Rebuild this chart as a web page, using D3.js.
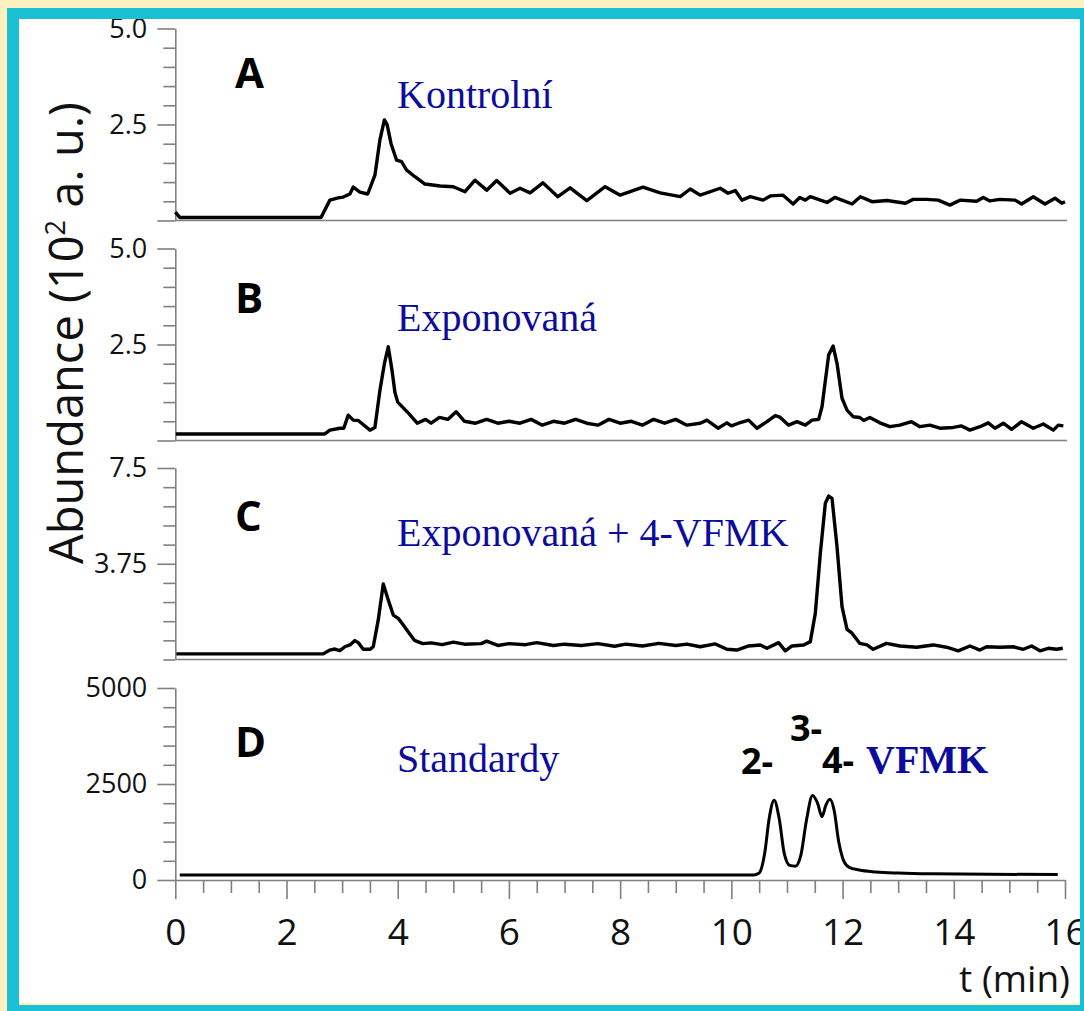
<!DOCTYPE html>
<html><head><meta charset="utf-8">
<script src="https://cdn.jsdelivr.net/npm/d3@7/dist/d3.min.js"></script>
<style>html,body{margin:0;padding:0;background:#fdf1c0;} svg{display:block}</style>
</head><body>
<svg id="c" width="1084" height="1011"></svg>
<script>
// ---------- data (time in min, abundance) ----------
const tA = [0,0.08,2.62,2.78,2.93,3.02,3.14,3.2,3.32,3.46,3.59,3.68,3.76,3.81,3.88,3.98,4.07,4.16,4.31,4.49,4.76,5.0,5.21,5.39,5.6,5.78,6.02,6.2,6.38,6.61,6.88,7.1,7.4,7.73,8.0,8.41,8.72,9.08,9.26,9.44,9.8,9.94,10.07,10.19,10.34,10.57,10.7,10.93,11.11,11.23,11.33,11.42,11.72,11.86,12.17,12.32,12.53,12.8,13.13,13.27,13.51,13.72,13.93,14.11,14.41,14.53,14.65,14.83,15.1,15.22,15.43,15.64,15.82,15.94,16.0];
const vA = [0.22,0.08,0.08,0.53,0.59,0.61,0.69,0.87,0.74,0.69,1.18,2.1,2.62,2.49,2.0,1.57,1.53,1.31,1.14,0.95,0.9,0.88,0.75,1.05,0.79,1.04,0.71,0.84,0.72,0.98,0.62,0.85,0.52,0.88,0.66,0.87,0.72,0.62,0.82,0.66,0.84,0.71,0.78,0.53,0.62,0.53,0.64,0.66,0.43,0.6,0.53,0.62,0.47,0.6,0.43,0.62,0.49,0.52,0.45,0.55,0.55,0.53,0.4,0.53,0.5,0.6,0.51,0.55,0.53,0.43,0.62,0.43,0.58,0.45,0.49];

const tB = [0.01,2.69,2.78,2.96,3.03,3.11,3.2,3.29,3.5,3.59,3.68,3.76,3.83,3.9,3.95,4.0,4.1,4.2,4.35,4.5,4.6,4.75,4.9,5.05,5.2,5.4,5.6,5.8,6.0,6.2,6.4,6.6,6.8,7.0,7.2,7.4,7.6,7.8,8.0,8.2,8.4,8.6,8.8,9.0,9.2,9.44,9.56,9.76,9.92,10.0,10.13,10.31,10.46,10.64,10.79,10.88,11.03,11.18,11.33,11.45,11.57,11.63,11.75,11.83,11.9,11.99,12.08,12.19,12.31,12.38,12.49,12.67,12.85,13.03,13.24,13.39,13.57,13.75,13.99,14.14,14.29,14.47,14.62,14.74,14.89,15.04,15.22,15.43,15.61,15.79,15.88,15.97];
const vB = [0.17,0.17,0.27,0.32,0.32,0.66,0.53,0.52,0.27,0.34,1.31,2.0,2.44,1.8,1.25,1.0,0.85,0.7,0.45,0.55,0.45,0.6,0.55,0.75,0.5,0.45,0.55,0.45,0.5,0.45,0.55,0.4,0.5,0.45,0.55,0.45,0.4,0.55,0.45,0.5,0.4,0.55,0.45,0.55,0.4,0.45,0.53,0.32,0.46,0.38,0.45,0.53,0.32,0.49,0.65,0.6,0.4,0.49,0.4,0.53,0.55,0.88,2.23,2.46,2.01,1.1,0.79,0.62,0.6,0.52,0.6,0.46,0.36,0.4,0.49,0.36,0.4,0.32,0.34,0.38,0.27,0.36,0.46,0.32,0.45,0.29,0.49,0.32,0.43,0.27,0.4,0.38];

const tC = [0.02,2.66,2.78,2.87,2.96,3.05,3.14,3.23,3.29,3.38,3.5,3.56,3.65,3.74,3.83,3.92,4.01,4.1,4.2,4.3,4.45,4.6,4.8,5.0,5.2,5.5,5.6,5.8,6.0,6.3,6.5,6.8,7.0,7.3,7.6,7.9,8.1,8.4,8.7,9.0,9.2,9.44,9.71,9.92,10.1,10.31,10.52,10.64,10.85,10.97,11.09,11.3,11.42,11.51,11.6,11.69,11.75,11.81,11.9,11.99,12.08,12.17,12.31,12.44,12.55,12.79,13.03,13.33,13.63,13.87,14.08,14.29,14.47,14.59,14.83,15.07,15.25,15.4,15.55,15.7,15.85,15.96];
const vC = [0.22,0.22,0.37,0.41,0.35,0.5,0.57,0.74,0.66,0.4,0.4,0.5,1.55,2.96,2.33,1.74,1.61,1.35,1.05,0.75,0.62,0.65,0.58,0.68,0.6,0.62,0.72,0.55,0.62,0.58,0.66,0.55,0.6,0.55,0.62,0.52,0.6,0.53,0.63,0.55,0.6,0.5,0.61,0.4,0.37,0.53,0.57,0.44,0.66,0.34,0.53,0.57,0.7,1.81,4.16,6.12,6.4,6.31,4.42,2.07,1.18,1.03,0.63,0.57,0.4,0.63,0.53,0.48,0.57,0.48,0.34,0.53,0.37,0.5,0.48,0.5,0.4,0.53,0.34,0.44,0.4,0.44];

const tD = [0.08,10.4,10.5,10.6,10.68,10.77,10.86,10.95,11.05,11.15,11.25,11.35,11.46,11.55,11.63,11.7,11.77,11.85,11.93,12.02,12.12,12.3,12.6,13.0,13.6,15.87];
const vD = [130,130,180,700,1600,2080,1600,700,380,360,650,1550,2200,2000,1650,1950,2100,1800,1000,500,330,260,210,180,160,140];

// ---------- ticks & labels ----------
const xMajor = [0,2,4,6,8,10,12,14,16];
const xMinor = [0.5,1,1.5,2.5,3,3.5,4.5,5,5.5,6.5,7,7.5,8.5,9,9.5,10.5,11,11.5,12.5,13,13.5,14.5,15,15.5];
const yMajorA = [0,2.5,5], yLabA = {2.5:"2.5",5:"5.0"};
const yMajorB = [0,2.5,5], yLabB = {2.5:"2.5",5:"5.0"};
const yMajorC = [3.75,7.5], yLabC = {3.75:"3.75",7.5:"7.5"};
const yMajorD = [0,2500,5000], yLabD = {0:"0",2500:"2500",5000:"5000"};
const letters = ["A","B","C","D"];
const names = ["Kontrolní","Exponovaná","Exponovaná + 4-VFMK","Standardy"];

// ---------- drawing ----------
const svg = d3.select('#c');
const BLUE = '#0c0c9c', GRAY = '#808080';
svg.append('rect').attr('width',1084).attr('height',1011).attr('fill','#fdf1c0');
svg.append('rect').attr('x',19).attr('y',19).attr('width',1061).attr('height',984).attr('fill','#fff');

const x = d3.scaleLinear().domain([0,16]).range([175.3,1065]);

const panels = [
  {t:tA,v:vA,dom:[0,5],rng:[220.5,28.5],major:yMajorA,lab:yLabA,step:0.5,ly:88,ny:108},
  {t:tB,v:vB,dom:[0,5],rng:[440.5,248.5],major:yMajorB,lab:yLabB,step:0.5,ly:313,ny:331},
  {t:tC,v:vC,dom:[0,7.5],rng:[659.5,468],major:yMajorC,lab:yLabC,step:0.75,ly:531,ny:546},
  {t:tD,v:vD,dom:[0,5000],rng:[880,688],major:yMajorD,lab:yLabD,step:500,ly:757,ny:772}
];

panels.forEach((p,i)=>{
  const y = d3.scaleLinear().domain(p.dom).range(p.rng);
  const g = svg.append('g');
  if(i<3){
    g.append('line').attr('x1',x(0)).attr('x2',x(16)+2).attr('y1',y(0)).attr('y2',y(0))
      .attr('stroke',GRAY).attr('stroke-width',1.6);
  }
  const minorVals = d3.range(0, p.dom[1]+p.step/2, p.step).filter(v=>!p.major.some(m=>Math.abs(m-v)<1e-6));
  const gm = g.append('g').attr('transform',`translate(${x(0)},0)`)
    .call(d3.axisLeft(y).tickValues(minorVals).tickSize(12).tickFormat('').tickSizeOuter(0));
  gm.select('.domain').remove();
  const ga = g.append('g').attr('transform',`translate(${x(0)},0)`)
    .call(d3.axisLeft(y).tickValues(p.major).tickSize(18).tickPadding(10).tickSizeOuter(0)
      .tickFormat(d=>p.lab[d]||''));
  g.selectAll('.tick line').attr('stroke',GRAY).attr('stroke-width',1.6);
  ga.select('.domain').attr('stroke',GRAY).attr('stroke-width',1.6);
  ga.selectAll('text').attr('font-family','"Open Sans", sans-serif').attr('font-size',27).attr('fill','#111');

  const data = p.t.map((t,k)=>[t,p.v[k]]);
  const line = d3.line().x(d=>x(d[0])).y(d=>y(d[1]))
     .curve(i===3 ? d3.curveMonotoneX : d3.curveLinear);
  g.append('path').datum(data).attr('d',line).attr('fill','none')
    .attr('stroke','#000').attr('stroke-width',i===3?3:3.4).attr('stroke-linejoin','round');

  g.append('text').attr('x',235).attr('y',p.ly).text(letters[i])
    .attr('font-family','"Open Sans", sans-serif').attr('font-weight',700).attr('font-size',42).attr('fill','#000');
  g.append('text').attr('x',397).attr('y',p.ny).text(names[i])
    .attr('font-family','"Liberation Serif", serif').attr('font-size',40).attr('fill',BLUE);
});

// x axis (panel D)
const yD0 = 880;
const gxm = svg.append('g').attr('transform',`translate(0,${yD0})`)
  .call(d3.axisBottom(x).tickValues(xMinor).tickSize(13).tickFormat('').tickSizeOuter(0));
gxm.select('.domain').remove();
const gx = svg.append('g').attr('transform',`translate(0,${yD0})`)
  .call(d3.axisBottom(x).tickValues(xMajor).tickSize(19).tickSizeOuter(0).tickFormat(d3.format('d')));
gx.select('.domain').attr('stroke',GRAY).attr('stroke-width',1.6);
svg.selectAll('.tick line').attr('stroke',GRAY).attr('stroke-width',1.6);
gx.selectAll('text').attr('y',65).attr('dy',0).attr('font-family','"Open Sans", sans-serif')
  .attr('font-size',37).attr('fill','#111');

svg.append('text').attr('x',1070).attr('y',992).attr('text-anchor','end').text('t (min)')
  .attr('font-family','"Open Sans", sans-serif').attr('font-size',37).attr('fill','#111');

// y label
const yl = svg.append('text').attr('transform','translate(83,333) rotate(-90)').attr('text-anchor','middle')
  .attr('font-family','"Open Sans", sans-serif').attr('font-size',47).attr('fill','#111');
yl.append('tspan').text('Abundance (10');
yl.append('tspan').text('2').attr('font-size',27).attr('dy',-18);
yl.append('tspan').text(' a. u.)').attr('dy',18);

// peak labels in D
const pk = svg.append('g').attr('font-family','"Open Sans", sans-serif').attr('font-weight',700).attr('font-size',36).attr('fill','#000');
pk.append('text').attr('x',741).attr('y',774).text('2-');
pk.append('text').attr('x',790).attr('y',741).text('3-');
pk.append('text').attr('x',822).attr('y',773).text('4-');
svg.append('text').attr('x',866).attr('y',773).text('VFMK')
  .attr('font-family','"Liberation Serif", serif').attr('font-weight',700).attr('font-size',40).attr('fill',BLUE);

// frame
const CY = '#1bbfd3';
svg.append('rect').attr('x',19).attr('y',1003).attr('width',1061).attr('height',2).attr('fill','#fdf1c0');
svg.append('rect').attr('x',7).attr('y',8).attr('width',12).attr('height',1003).attr('fill',CY);
svg.append('rect').attr('x',7).attr('y',8).attr('width',1077).attr('height',11).attr('fill',CY);
svg.append('rect').attr('x',1080).attr('y',8).attr('width',4).attr('height',1003).attr('fill',CY);
svg.append('rect').attr('x',7).attr('y',1005).attr('width',1077).attr('height',6).attr('fill',CY);
</script>
</body></html>
